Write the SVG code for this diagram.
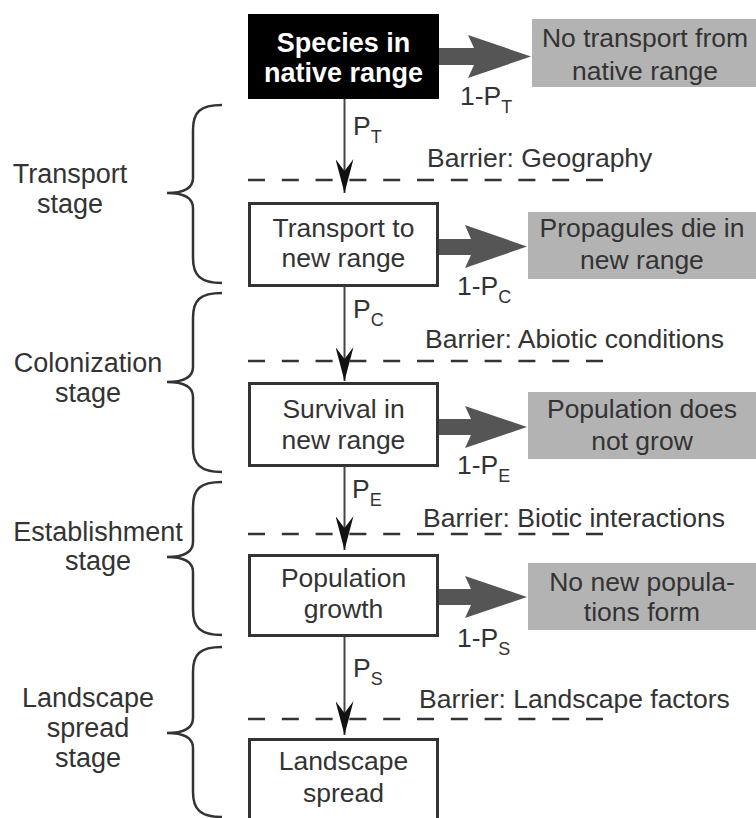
<svg xmlns="http://www.w3.org/2000/svg" width="756" height="818" viewBox="0 0 756 818">
<style>
text{font-family:"Liberation Sans",Arial,sans-serif;font-size:26.5px;fill:#333;}
.c{text-anchor:middle;}
.stage{font-size:27px;text-anchor:middle;}
.w{fill:#fff;font-weight:bold;font-size:27px;}
.box{fill:#fff;stroke:#333;stroke-width:3;}
.grey{fill:#b3b3b3;}
.fat{fill:#555;}
.flow{stroke:#444;stroke-width:2;fill:none;}
.dash{stroke:#333;stroke-width:2.5;stroke-dasharray:17 16.8;fill:none;}
.brace{stroke:#333;stroke-width:2.5;fill:none;}
.sub{font-size:18px;}
</style>
<defs>
<marker id="ah" markerUnits="userSpaceOnUse" viewBox="0 0 34 18" refX="34" refY="9" markerWidth="34" markerHeight="18" orient="auto">
<path d="M0,0 L34,9 L0,18 L12,9 Z" fill="#111"/>
</marker>
</defs>
<rect width="756" height="818" fill="#fff"/>

<g id="stages">
<path class="brace" d="M222,105 C200,105 193,112 193,130 L193,178 C193,188 185,193 167,193 C185,193 193,198 193,208 L193,258 C193,275 200,283 222,283"/>
<text class="stage" x="70" y="183">Transport</text>
<text class="stage" x="70" y="213">stage</text>
<path class="brace" d="M222,293 C200,293 193,300 193,318 L193,367 C193,377 185,382 167,382 C185,382 193,387 193,397 L193,447 C193,464 200,472 222,472"/>
<text class="stage" x="88" y="372">Colonization</text>
<text class="stage" x="88" y="402">stage</text>
<path class="brace" d="M222,482 C200,482 193,489 193,507 L193,542 C193,552 185,557 167,557 C185,557 193,562 193,572 L193,610 C193,627 200,635 222,635"/>
<text class="stage" x="98" y="541">Establishment</text>
<text class="stage" x="98" y="570">stage</text>
<path class="brace" d="M222,647 C200,647 193,654 193,672 L193,718 C193,728 185,733 167,733 C185,733 193,738 193,748 L193,792 C193,809 200,817 222,817"/>
<text class="stage" x="88" y="707">Landscape</text>
<text class="stage" x="88" y="737">spread</text>
<text class="stage" x="88" y="767">stage</text>
</g>

<g id="connectors">
<line class="flow" x1="344.5" y1="99" x2="344.5" y2="193" marker-end="url(#ah)"/>
<line class="flow" x1="344.5" y1="286" x2="344.5" y2="381" marker-end="url(#ah)"/>
<line class="flow" x1="344.5" y1="466" x2="344.5" y2="550" marker-end="url(#ah)"/>
<line class="flow" x1="344.5" y1="636" x2="344.5" y2="735" marker-end="url(#ah)"/>
<path class="fat" d="M439,48 L474,48 L468,35 L531,56.5 L468,78 L474,65 L439,65 Z"/>
<path class="fat" d="M438,239 L471,239 L465,225 L527,246.5 L465,268 L471,255 L438,255 Z"/>
<path class="fat" d="M438,419 L471,419 L465,406 L527,427 L465,448 L471,435 L438,435 Z"/>
<path class="fat" d="M438,589 L471,589 L465,576 L527,597 L465,618 L471,605 L438,605 Z"/>
<text x="460" y="105">1-P<tspan class="sub" dy="8">T</tspan></text>
<text x="457" y="295">1-P<tspan class="sub" dy="8">C</tspan></text>
<text x="457" y="474">1-P<tspan class="sub" dy="8">E</tspan></text>
<text x="457" y="647">1-P<tspan class="sub" dy="8">S</tspan></text>
<text x="353" y="135">P<tspan class="sub" dy="8">T</tspan></text>
<text x="353" y="318">P<tspan class="sub" dy="8">C</tspan></text>
<text x="352" y="498">P<tspan class="sub" dy="8">E</tspan></text>
<text x="353" y="677">P<tspan class="sub" dy="8">S</tspan></text>
</g>

<g id="barriers">
<line class="dash" x1="248" y1="180" x2="608" y2="180"/>
<text x="427" y="167">Barrier: Geography</text>
<line class="dash" x1="248" y1="361" x2="608" y2="361"/>
<text x="425" y="348">Barrier: Abiotic conditions</text>
<line class="dash" x1="248" y1="534" x2="608" y2="534"/>
<text x="423" y="527">Barrier: Biotic interactions</text>
<line class="dash" x1="248" y1="719" x2="608" y2="719"/>
<text x="419" y="708">Barrier: Landscape factors</text>
</g>

<g id="native">
<rect x="248" y="14" width="191" height="85" fill="#000"/>
<text class="c w" x="343.5" y="52">Species in</text>
<text class="c w" x="343.5" y="82">native range</text>
</g>
<g id="transport">
<rect class="box" x="249.5" y="203.5" width="188" height="82"/>
<text class="c" x="343.5" y="237">Transport to</text>
<text class="c" x="343.5" y="267">new range</text>
</g>
<g id="survival">
<rect class="box" x="249.5" y="383.5" width="188" height="82"/>
<text class="c" x="343.5" y="418">Survival in</text>
<text class="c" x="343.5" y="449">new range</text>
</g>
<g id="growth">
<rect class="box" x="249.5" y="555.5" width="188" height="80"/>
<text class="c" x="343.5" y="587">Population</text>
<text class="c" x="343.5" y="618">growth</text>
</g>
<g id="spread">
<rect class="box" x="249.5" y="739.5" width="188" height="90"/>
<text class="c" x="343.5" y="770">Landscape</text>
<text class="c" x="343.5" y="802">spread</text>
</g>

<g id="no-transport">
<rect class="grey" x="532" y="19" width="230" height="68"/>
<text class="c" x="645" y="47">No transport from</text>
<text class="c" x="645" y="80">native range</text>
</g>
<g id="propagules-die">
<rect class="grey" x="528" y="212" width="234" height="67"/>
<text class="c" x="642" y="237">Propagules die in</text>
<text class="c" x="642" y="269">new range</text>
</g>
<g id="no-growth">
<rect class="grey" x="528" y="392" width="234" height="67"/>
<text class="c" x="642" y="418">Population does</text>
<text class="c" x="642" y="450">not grow</text>
</g>
<g id="no-new-pop">
<rect class="grey" x="528" y="563" width="234" height="67"/>
<text class="c" x="642" y="591">No new popula-</text>
<text class="c" x="642" y="621">tions form</text>
</g>
</svg>
